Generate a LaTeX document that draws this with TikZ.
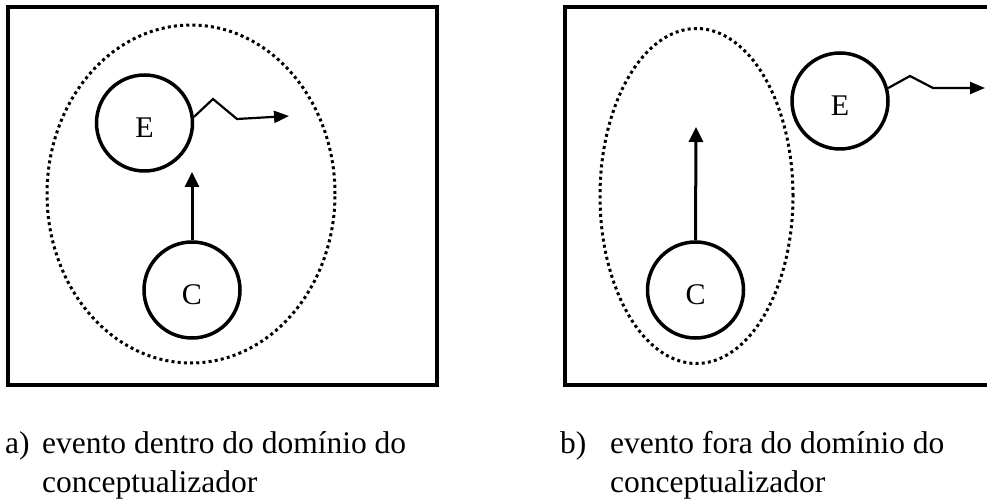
\documentclass[tikz,border=0pt]{standalone}
\usepackage{fontspec}
\setmainfont{Liberation Serif}
\usepackage{tikz}
\usetikzlibrary{arrows.meta, positioning, shapes.geometric}

\begin{document}
\begin{tikzpicture}[
  x=1pt, y=-1pt,
  frame/.style={draw=black, line width=4pt},
  dom/.style={draw=black, ellipse, line width=3pt, dash pattern=on 3pt off 3.2pt},
  ent/.style={draw=black, circle, minimum size=96pt, inner sep=0pt, line width=3.5pt,
              font=\fontsize{30}{34}\selectfont},
  arr/.style={-{Triangle[length=15pt, width=14pt]}, line width=3pt},
  wig/.style={-{Triangle[length=15pt, width=12pt]}, line width=2.2pt},
  captxt/.style={font=\fontsize{31.5}{40}\selectfont, inner sep=0pt, align=left}
]
\useasboundingbox (0,0) rectangle (987,502);

% a) evento dentro do dominio
\draw[frame] (8,7) rectangle (437,385);
\node[dom, minimum width=288pt, minimum height=338pt] (domA) at (191,194) {};
\node[ent] (eA) at (144.5,123) {\raisebox{-5pt}[\height][0pt]{E}};
\node[ent] (cA) at (192,290) {\raisebox{-5pt}[\height][0pt]{C}};
\coordinate (tipA) at (192,172);
\coordinate (endA) at (289,116);
\draw[arr] (cA.north) -- (tipA);
\draw[wig] (eA.7) -- (213,99) -- (237,119) -- (endA);

% b) evento fora do dominio
\draw[frame] (565,7) rectangle (995,385);
\node[dom, minimum width=193pt, minimum height=335pt] (domB) at (696.5,196) {};
\node[ent] (eB) at (840,101) {\raisebox{-5pt}[\height][0pt]{E}};
\node[ent] (cB) at (695.5,290) {\raisebox{-5pt}[\height][0pt]{C}};
\coordinate (tipB) at (696,127);
\coordinate (endB) at (985,88);
\draw[arr] (cB.north) -- (tipB);
\draw[wig] (eB.15) -- (910,76) -- (933,88) -- (endB);

% legendas
\node[captxt, anchor=base west] (labA) at (5,453) {a)};
\node[captxt, anchor=base west] (txtA) at (42,453) {evento dentro do domínio do};
\node[captxt, below=39pt of txtA.base west, anchor=base west] (txtA2) {conceptualizador};
\node[captxt, anchor=base west] (labB) at (560,453) {b)};
\node[captxt, anchor=base west] (txtB) at (610,453) {evento fora do domínio do};
\node[captxt, below=39pt of txtB.base west, anchor=base west] (txtB2) {conceptualizador};
\end{tikzpicture}
\end{document}
